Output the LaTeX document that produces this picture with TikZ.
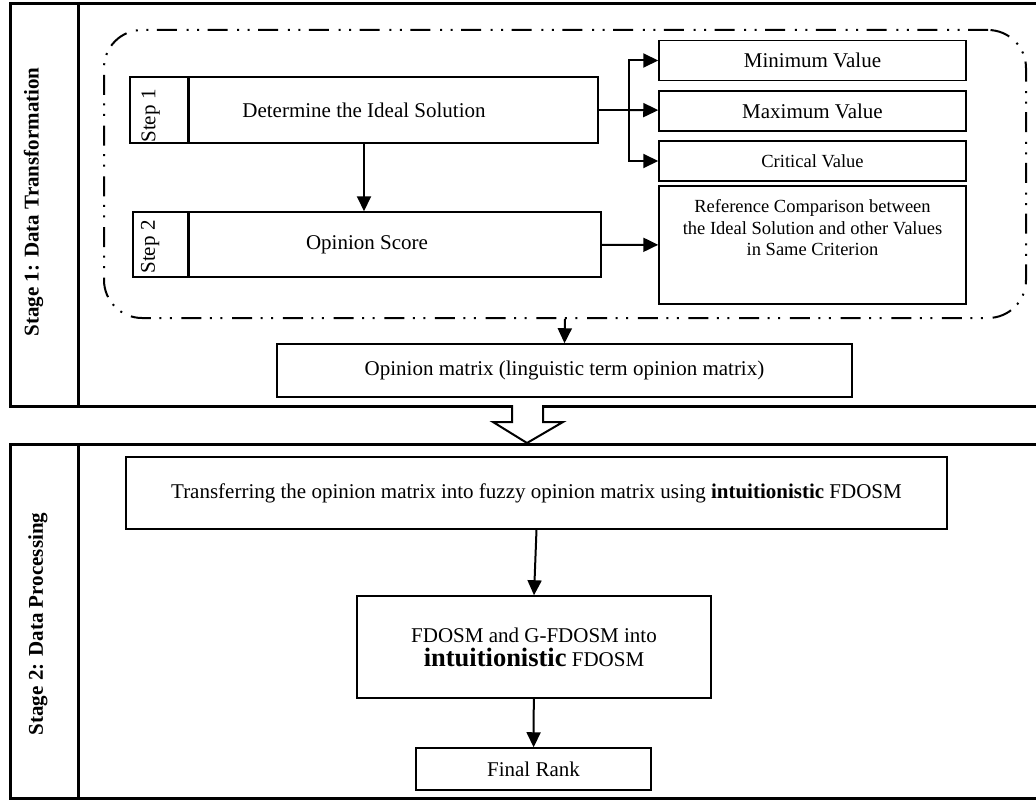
\documentclass[tikz,border=0pt]{standalone}
\usepackage{fontspec}
\setmainfont{Liberation Serif}
\usetikzlibrary{
arrows.meta,
calc
}
\tikzset{
  block/.style={
    draw,
    rectangle,
    line width=1.5pt,
    inner sep=0pt,
    font=\fontsize{21}{25}\selectfont
  },
  % rotated stage titles
  stagelbl/.style={rotate=90, inner sep=0pt, font=\fontsize{21}{25}\selectfont\bfseries}
}

\begin{document}
\begin{tikzpicture}[
    x=1pt, y=-1pt,
    stage/.style={
      draw,
      line width=3pt,
      anchor=north west,
      minimum width=1031pt
    },
    stepbox/.style={
      block,
      minimum width=468pt,
      minimum height=66pt
    },
    valbox/.style={
      block,
      minimum width=307pt,
      minimum height=40pt
    },
    group/.style={
      draw,
      line width=2pt,
      rounded corners=38pt,
      dash pattern=on 20pt off 8.5pt on 2pt off 8.5pt on 2pt off 9.7pt,
      anchor=north west,
      minimum width=922pt,
      minimum height=288pt
    },
    steplbl/.style={
      rotate=90,
      anchor=west,
      inner sep=0pt,
      font=\fontsize{21}{25}\selectfont
    },
    divider/.style={line width=3pt},
    flow/.style={
      line width=2pt,
      -{Triangle[length=15pt,width=14pt]}
    },
    hollow/.style={line width=2pt, fill=white, line join=miter}
  ]
  \useasboundingbox (0,0) rectangle (1036,800);
  % Stage 1
  \node[stage, minimum height=403pt] (stage1) at (9,2) {};
  \draw[divider] ([xshift=69pt]stage1.north west) -- ([xshift=69pt]stage1.south west);
  \node[stagelbl] (lbl1) at (33.5,202) {Stage 1: Data Transformation};
  \node[group] (grp) at (103,29) {};
  \node[stepbox] (s1) at (364,110) {Determine the Ideal Solution};
  \node[stepbox, minimum height=65pt] (s2) at (367,244.5) {Opinion Score};
  \draw[divider] ([xshift=59pt]s1.north west) -- ([xshift=59pt]s1.south west);
  \draw[divider] ([xshift=56pt]s2.north west) -- ([xshift=56pt]s2.south west);
  \node[steplbl] (t1) at ([xshift=21.5pt,yshift=1pt]s1.south west) {Step 1};
  \node[steplbl] (t2) at ([xshift=18pt,yshift=4pt]s2.south west) {Step 2};
  \node[valbox] (minv) at (812.5,60.5) {Minimum Value};
  \node[valbox] (maxv) at (812.5,111) {Maximum Value};
  \node[valbox, font=\fontsize{18.5}{21.5}\selectfont] (crit) at (812.5,161) {Critical Value};
  \node[valbox, minimum height=118pt] (refv) at (812.5,245) {};
  \node[anchor=north, align=center, font=\fontsize{18.5}{21.5}\selectfont] (reftxt) at ([yshift=-11pt]refv.north) {Reference Comparison between\\the Ideal Solution and other Values\\in Same Criterion};
  \node[block, minimum width=575pt, minimum height=53pt] (opm) at (564.5,370.5) {Opinion matrix (linguistic term opinion matrix)};
  \coordinate (split) at ([xshift=30pt]s1.east);
  \draw[line width=2pt] (s1.east) -- (split);
  \draw[flow] (split) |- (minv);
  \draw[flow] (split) -- (maxv);
  \draw[flow] (split) |- (crit);
  \draw[flow] (s1) -- (s1 |- s2.north);
  \draw[flow] (s2) -- (refv);
  \draw[flow] (grp.south) -- (opm.north);
  % Stage 2
  \node[stage, minimum height=354pt] (stage2) at (9,443) {};
  \draw[divider] ([xshift=69pt]stage2.north west) -- ([xshift=69pt]stage2.south west);
  \node[stagelbl] (lbl2) at (38,624) {Stage 2: Data Processing};
  \draw[hollow] (512,405) -- (512,422) -- (493,422) -- (527,443) -- (563,422) -- (543,422) -- (543,405);
  \node[block, minimum width=821pt, minimum height=72pt] (tr) at (536.5,493) {Transferring the opinion matrix into fuzzy opinion matrix using \textbf{intuitionistic} FDOSM};
  \node[block, minimum width=354pt, minimum height=102pt, align=center, font=\fontsize{21}{22}\selectfont] (fd) at (534,647) {FDOSM and G-FDOSM into\\[2pt]{\fontsize{26.5}{22}\selectfont\bfseries intuitionistic} FDOSM};
  \node[block, minimum width=235pt, minimum height=42pt] (rank) at (533.5,769) {Final Rank};
  \draw[flow] (tr.south) -- (fd.north);
  \draw[flow] (fd) -- (rank);
\end{tikzpicture}
\end{document}
